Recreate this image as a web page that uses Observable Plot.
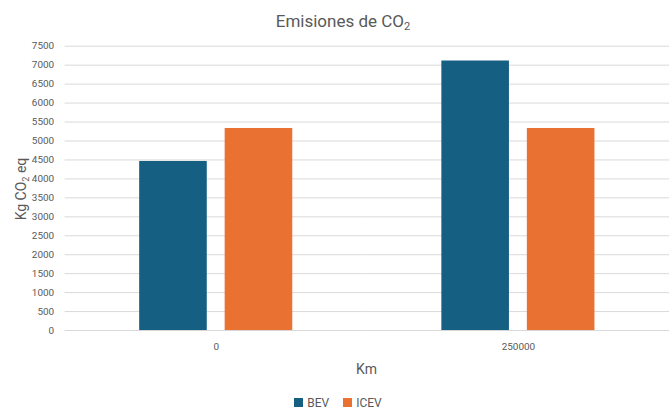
<!DOCTYPE html>
<html>
<head>
<meta charset="utf-8">
<script src="https://cdn.jsdelivr.net/npm/d3@7"></script>
<script src="https://cdn.jsdelivr.net/npm/@observablehq/plot@0.6"></script>
<style>
  html, body { margin: 0; padding: 0; background: #fff; }
  body { font-family: Roboto, "Noto Sans", sans-serif; color: #595959; }
  #wrap { position: relative; width: 669px; height: 410px; overflow: hidden; }
  #chart { position: absolute; left: 0; top: 0; }
  .title { position: absolute; top: 11px; left: 0; width: 686px; text-align: center; font-size: 17px; color: #595959; }
  .ylab { position: absolute; left: 21px; top: 189px; transform: translate(-50%, -50%) rotate(-90deg); font-size: 14px; white-space: nowrap; color: #595959; }
  .xlab { position: absolute; top: 361px; left: 64px; width: 605px; text-align: center; font-size: 14px; color: #595959; }
  .legend { position: absolute; top: 396px; left: 0; width: 676px; display: flex; justify-content: center; gap: 14px; font-size: 12px; color: #595959; }
  .legend span.sw { display: inline-block; width: 9px; height: 9px; margin-right: 4px; vertical-align: -0px; }
  sub { font-size: 0.65em; vertical-align: -0.3em; line-height: 0; }
</style>
</head>
<body>
<div id="wrap">
  <div id="chart"></div>
  <div class="title">Emisiones de CO<sub>2</sub></div>
  <div class="ylab">Kg CO<sub>2</sub> eq</div>
  <div class="xlab">Km</div>
  <div class="legend" id="legend"></div>
</div>
<script>
const kmCategories = ["0", "250000"];
const seriesNames = ["BEV", "ICEV"];
const bevValues = [4460, 7110];
const icevValues = [5330, 5330];
const yTicks = [0, 500, 1000, 1500, 2000, 2500, 3000, 3500, 4000, 4500, 5000, 5500, 6000, 6500, 7000, 7500];
const seriesColors = ["#156082", "#E97132"];

const data = [];
kmCategories.forEach((k, i) => {
  data.push({km: k, series: "BEV", value: bevValues[i]});
  data.push({km: k, series: "ICEV", value: icevValues[i]});
});

const chart = Plot.plot({
  width: 673,
  height: 380,
  marginTop: 46,
  marginBottom: 48,
  marginLeft: 65,
  marginRight: 0,
  style: {fontFamily: "Roboto, 'Noto Sans', sans-serif", color: "#595959", background: "transparent"},
  fx: {domain: kmCategories, padding: 0},
  x: {domain: seriesNames, paddingInner: 0.21, paddingOuter: 0.86, axis: null},
  y: {domain: [0, 7500]},
  color: {domain: seriesNames, range: seriesColors},
  marks: [
    Plot.gridY(yTicks, {stroke: "#d9d9d9", strokeOpacity: 1, strokeWidth: 1}),
    Plot.axisY(yTicks, {tickSize: 0, tickPadding: 11, fontSize: 10, fill: "#595959", label: null, tickFormat: d => String(d)}),
    Plot.barY(data, {fx: "km", x: "series", y: "value", fill: "series"}),
    Plot.axisFx({anchor: "bottom", tickSize: 0, tickPadding: 12, fontSize: 10, fill: "#595959", label: null})
  ]
});
document.getElementById("chart").appendChild(chart);

const legend = document.getElementById("legend");
seriesNames.forEach((s, i) => {
  const item = document.createElement("div");
  const sw = document.createElement("span");
  sw.className = "sw";
  sw.style.background = seriesColors[i];
  item.appendChild(sw);
  item.appendChild(document.createTextNode(s));
  legend.appendChild(item);
});
</script>
</body>
</html>
